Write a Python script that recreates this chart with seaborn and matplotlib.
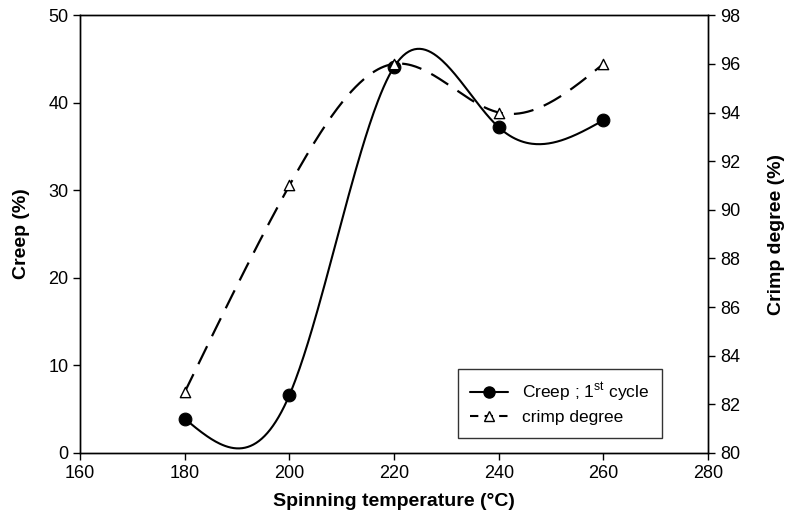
import numpy as np
import pandas as pd
import matplotlib
matplotlib.use("Agg")
import matplotlib.pyplot as plt
from matplotlib.lines import Line2D
import seaborn as sns

temperature = [180, 200, 220, 240, 260]
creep = [3.9, 6.6, 44.1, 37.2, 38.0]
crimp = [82.5, 91.0, 96.0, 94.0, 96.0]


def natural_spline(x, y, n=300):
    # natural cubic spline, like the smooth curve of the original plot
    x = np.asarray(x, float)
    y = np.asarray(y, float)
    k = len(x)
    h = np.diff(x)
    A = np.zeros((k, k))
    b = np.zeros(k)
    A[0, 0] = A[-1, -1] = 1
    for i in range(1, k - 1):
        A[i, i - 1] = h[i - 1]
        A[i, i] = 2 * (h[i - 1] + h[i])
        A[i, i + 1] = h[i]
        b[i] = 6 * ((y[i + 1] - y[i]) / h[i] - (y[i] - y[i - 1]) / h[i - 1])
    m = np.linalg.solve(A, b)
    xs = np.linspace(x[0], x[-1], n)
    idx = np.clip(np.searchsorted(x, xs) - 1, 0, k - 2)
    x0, x1 = x[idx], x[idx + 1]
    hh = x1 - x0
    t0, t1 = x1 - xs, xs - x0
    ys = (m[idx] * t0 ** 3 / (6 * hh) + m[idx + 1] * t1 ** 3 / (6 * hh)
          + (y[idx] / hh - m[idx] * hh / 6) * t0
          + (y[idx + 1] / hh - m[idx + 1] * hh / 6) * t1)
    return xs, ys


sns.set_style("white")
plt.rcParams["font.family"] = ["Liberation Sans", "DejaVu Sans"]
plt.rcParams["text.color"] = "black"
plt.rcParams["axes.labelcolor"] = "black"

fig = plt.figure(figsize=(7.85, 5.26), dpi=100)
ax = fig.add_axes([0.102, 0.139, 0.800, 0.832])
ax2 = ax.twinx()

points = pd.DataFrame({"temp": temperature, "creep": creep, "crimp": crimp})
xs, ys = natural_spline(temperature, creep)
xc, yc = natural_spline(temperature, crimp)
creep_curve = pd.DataFrame({"temp": xs, "val": ys})
crimp_curve = pd.DataFrame({"temp": xc, "val": yc})

dash = (0, (9, 5))
sns.lineplot(data=creep_curve, x="temp", y="val", ax=ax, color="black", lw=1.5)
sns.scatterplot(data=points, x="temp", y="creep", ax=ax, color="black",
                marker="o", s=85, edgecolor="black", zorder=5)
sns.lineplot(data=crimp_curve, x="temp", y="val", ax=ax2, color="black",
             lw=1.6, linestyle=dash)
sns.scatterplot(data=points, x="temp", y="crimp", ax=ax2, facecolor="white",
                marker="^", s=55, edgecolor="black", linewidth=1.0, zorder=5)

ax.set_xlim(160, 280)
ax.set_ylim(0, 50)
ax2.set_ylim(80, 98)
ax.set_xticks(range(160, 281, 20))
ax.set_yticks(range(0, 51, 10))
ax2.set_yticks(range(80, 99, 2))

lab = dict(fontsize=14, fontweight="bold", color="black")
ax.set_xlabel("Spinning temperature (°C)", labelpad=8, **lab)
ax.set_ylabel("Creep (%)", labelpad=13, **lab)
ax2.set_ylabel("Crimp degree (%)", labelpad=20, **lab)

for a in (ax, ax2):
    for s in a.spines.values():
        s.set_color("black")
        s.set_linewidth(1.0)
    a.tick_params(direction="out", length=5, width=1, colors="black",
                  labelsize=13)
ax.tick_params(axis="x", bottom=True, top=False)
ax.tick_params(axis="y", left=True, right=False)
ax2.tick_params(axis="y", right=True, left=False)

handles = [
    Line2D([], [], color="black", lw=1.5, marker="o", markersize=8),
    Line2D([], [], color="black", lw=1.5, linestyle=(0, (4, 3)), marker="^",
           markersize=7, markerfacecolor="white"),
]
leg = ax.legend(handles, ["Creep ; 1$^{\\mathregular{st}}$ cycle", "crimp degree"],
                loc="lower right", bbox_to_anchor=(0.94, 0.015), fontsize=12.5,
                frameon=True, fancybox=False, edgecolor="black",
                handlelength=2.2, borderpad=0.7, labelspacing=0.35)
leg.get_frame().set_linewidth(1.0)

fig.savefig("out.png", dpi=100)
